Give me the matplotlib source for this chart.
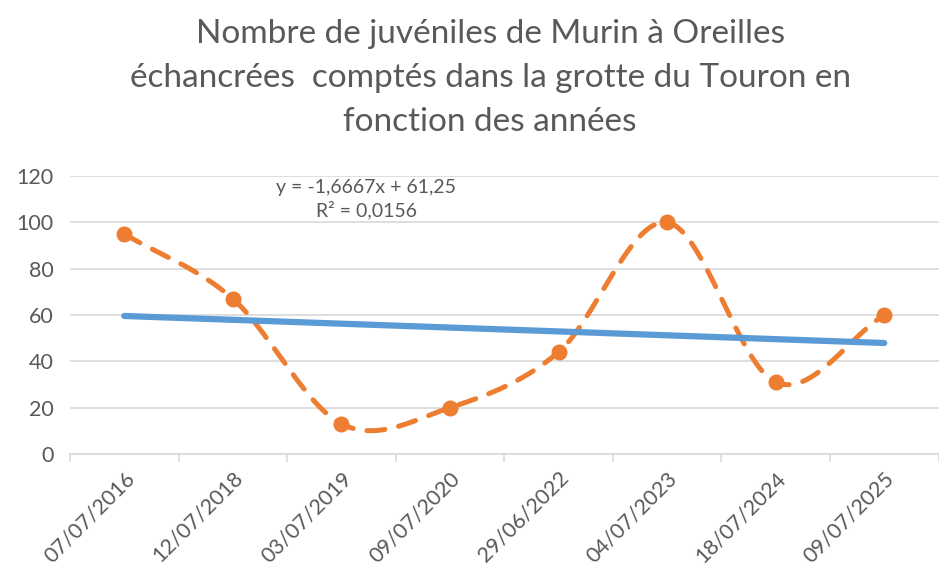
import numpy as np
import matplotlib.pyplot as plt
from matplotlib.ticker import FixedLocator

# données
dates = ['07/07/2016', '12/07/2018', '03/07/2019', '09/07/2020',
         '29/06/2022', '04/07/2023', '18/07/2024', '09/07/2025']
juveniles = [95, 67, 13, 20, 44, 100, 31, 60]

gris = '#595959'
orange = '#ED7D31'
bleu = '#5B9BD5'

x = np.arange(1, len(juveniles) + 1)
y = np.array(juveniles, dtype=float)


# courbe lissée façon Excel (Catmull-Rom)
def lisser(xs, ys, n=40):
    px = np.concatenate([[2 * xs[0] - xs[1]], xs, [2 * xs[-1] - xs[-2]]])
    py = np.concatenate([[2 * ys[0] - ys[1]], ys, [2 * ys[-1] - ys[-2]]])
    out_x, out_y = [], []
    for i in range(1, len(px) - 2):
        t = np.linspace(0, 1, n)
        for p, out in ((px, out_x), (py, out_y)):
            p0, p1, p2, p3 = p[i - 1], p[i], p[i + 1], p[i + 2]
            v = 0.5 * ((2 * p1) + (-p0 + p2) * t
                       + (2 * p0 - 5 * p1 + 4 * p2 - p3) * t ** 2
                       + (-p0 + 3 * p1 - 3 * p2 + p3) * t ** 3)
            out.extend(v)
    return np.array(out_x), np.array(out_y)


sx, sy = lisser(x, y)

# tendance linéaire
pente, origine = np.polyfit(x, y, 1)
r2 = np.corrcoef(x, y)[0, 1] ** 2

plt.rcParams['font.family'] = ['Lato', 'DejaVu Sans']

fig = plt.figure(figsize=(9.39, 5.68), dpi=100)
ax = fig.add_axes([0.0745, 0.2007, 0.925, 0.4894])

ax.plot(sx, sy, color=orange, lw=3.6, dashes=(3.6, 2.8), dash_capstyle='round')
ax.plot(x, y, 'o', color=orange, ms=10.5, zorder=3)
ax.plot(x, pente * x + origine, color=bleu, lw=4.5, solid_capstyle='round', zorder=4)

ax.set_xlim(0.5, 8.5)
ax.set_ylim(0, 120)
ax.set_yticks(range(0, 121, 20))
ax.grid(axis='y', color='#D9D9D9', lw=1.2)
ax.set_axisbelow(True)

ax.set_xticks(x)
ax.set_xticklabels(dates, rotation=45, ha='right', va='top', rotation_mode='anchor')
ax.xaxis.set_minor_locator(FixedLocator(np.arange(0.5, 8.6, 1)))
ax.tick_params(axis='x', which='major', length=0, pad=10, labelsize=15.5, labelcolor=gris)
ax.tick_params(axis='x', which='minor', length=6, width=1.2, color='#D9D9D9')
ax.tick_params(axis='y', length=0, pad=12, labelsize=15.5, labelcolor=gris)

for s in ['top', 'right', 'left']:
    ax.spines[s].set_visible(False)
ax.spines['bottom'].set_color('#D9D9D9')
ax.spines['bottom'].set_linewidth(1.2)

eq = 'y = {:.4f}x + {:.2f}\nR² = {:.4f}'.format(pente, origine, r2).replace('.', ',')
ax.text(3.23, 110, eq, ha='center', va='center', fontsize=14, color=gris, linespacing=1.35)

fig.text(0.522, 0.966, "Nombre de juvéniles de Murin à Oreilles\n"
         "échancrées  comptés dans la grotte du Touron en\n"
         "fonction des années",
         ha='center', va='top', fontsize=24, color=gris, linespacing=1.58)

fig.savefig('out.png', dpi=100)
